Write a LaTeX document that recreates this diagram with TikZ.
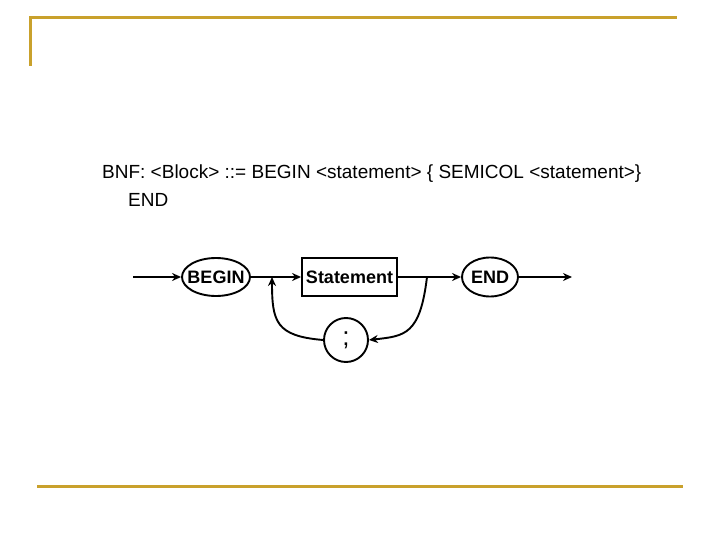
\documentclass[tikz,border=0pt]{standalone}
\usepackage{fontspec}
\setmainfont{Liberation Sans}
\usetikzlibrary{shapes.geometric,arrows.meta}
\definecolor{gold}{RGB}{201,161,44}
\begin{document}
\begin{tikzpicture}[x=1pt,y=-1pt,
  frame/.style={draw=gold,line width=3pt},
  conn/.style={draw=black,line width=1.9pt,-{Stealth[length=9pt,width=8pt]}},
  term/.style={ellipse,draw,line width=1.9pt,inner ysep=0pt,font=\fontsize{18}{20}\selectfont\bfseries},
  nonterm/.style={rectangle,draw,line width=1.9pt,inner sep=0pt,font=\fontsize{18}{20}\selectfont\bfseries},
  bnf/.style={anchor=base west,inner sep=0pt,font=\fontsize{19}{22}\selectfont}]
\useasboundingbox (0,0) rectangle (720,540);
% frame lines
\draw[frame] (30,66) -- (30,18) -- (677,18);
\draw[frame] (37,486) -- (683,486);
% text
\node[bnf] (t1) at (102,179) {BNF: <Block> ::= BEGIN <statement> \{ SEMICOL <statement>\}};
\node[bnf] (t2) at (128,207) {END};
% nodes
\coordinate (start) at (133,277);
\node[term,inner xsep=-4.5pt,minimum width=68pt,minimum height=38pt] (begin) at (216,277) {BEGIN};
\node[nonterm,minimum width=95pt,minimum height=38pt] (stmt) at (349.5,277) {Statement};
\node[term,inner xsep=-1pt,minimum width=56pt,minimum height=39pt] (endn) at (490,277) {END};
\node[circle,draw,line width=1.9pt,minimum size=44pt,inner sep=0pt,font=\fontsize{26}{28}\selectfont] (semi) at (346,340) {;};
\coordinate (exit) at (572,277);
\coordinate (j1) at (272,277);
\coordinate (j2) at (427,277);
% connectors
\draw[conn] (start) -- (begin);
\draw[conn] (begin) -- (stmt);
\draw[conn] (stmt) -- (endn);
\draw[conn] (endn) -- (exit);
\draw[conn] (j2) .. controls (420,335) and (405,336) .. (semi.east);
\draw[conn] (semi.west) .. controls (276,336) and (272,322) .. (j1);
\end{tikzpicture}
\end{document}
